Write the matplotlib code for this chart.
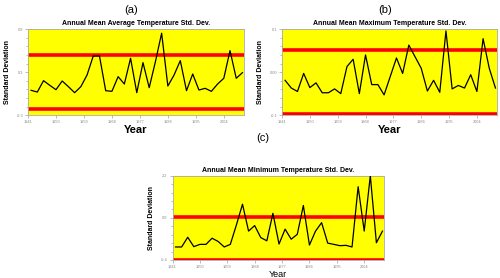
import matplotlib
matplotlib.use("Agg")
import matplotlib.pyplot as plt
from matplotlib.ticker import MultipleLocator, AutoMinorLocator

plt.rcParams['font.family'] = ['Liberation Sans', 'DejaVu Sans']

# years every second year
years = list(range(1942, 2011, 2))
xticks = [1941, 1950, 1959, 1968, 1977, 1986, 1995, 2004]

# (a) average temperature
avg_sd = [0.046, 0.022, 0.181, 0.116, 0.055, 0.176, 0.097, 0.013, 0.097, 0.26,
          0.526, 0.526, 0.041, 0.032, 0.237, 0.134, 0.494, 0.013, 0.433, 0.083,
          0.447, 0.844, 0.106, 0.26, 0.461, 0.041, 0.274, 0.05, 0.074, 0.032,
          0.134, 0.214, 0.601, 0.214, 0.293]
avg_limits = [0.54, -0.22]

# (b) maximum temperature
max_sd = [-0.019, -0.037, -0.045, -0.003, -0.036, -0.025, -0.048, -0.048, -0.039, -0.05,
          0.013, 0.030, -0.05, 0.040, -0.029, -0.029, -0.053, -0.010, 0.033, -0.003,
          0.063, 0.036, 0.009, -0.044, -0.019, -0.047, 0.096, -0.039, -0.031, -0.037,
          -0.006, -0.045, 0.078, 0.009, -0.037]
max_limits = [0.052, -0.098]

# (c) minimum temperature
min_sd = [0.0, 0.0, 0.30, 0.01, 0.08, 0.08, 0.27, 0.17, 0.0, 0.08,
          0.68, 1.32, 0.49, 0.66, 0.29, 0.19, 1.04, 0.09, 0.55, 0.24,
          0.39, 1.28, 0.06, 0.49, 0.75, 0.12, 0.08, 0.04, 0.05, 0.0,
          1.86, 0.49, 2.2, 0.13, 0.49]
min_limits = [0.94, -0.39]

fig = plt.figure(figsize=(5, 2.78), dpi=100)


def panel(rect, title, ys, limits, ylim, yticks, ylabels, bold):
    ax = fig.add_axes(rect)
    ax.set_facecolor('#ffff00')
    for lim in limits:
        ax.axhline(lim, color='#ff0000', lw=2.6, zorder=2)
    ax.plot(years, ys, color='black', lw=0.9, zorder=3)
    ax.set_xlim(1941, 2010.5)
    ax.set_ylim(*ylim)
    ax.set_xticks(xticks)
    ax.set_xticklabels([str(t) for t in xticks])
    ax.set_yticks(yticks)
    ax.set_yticklabels(ylabels)
    ax.yaxis.set_minor_locator(AutoMinorLocator(5))
    ax.tick_params(labelsize=2.8, colors='#888888', length=2, width=0.4, pad=1.5)
    ax.tick_params(which='minor', length=1.2, width=0.4, colors='#888888')
    for s in ax.spines.values():
        s.set_color('#aaaaaa')
        s.set_linewidth(0.6)
    ax.set_title(title, fontsize=5, fontweight='bold', pad=3)
    w = 'bold' if bold else 'normal'
    ax.set_xlabel('Year', fontsize=8 if bold else 6.5, fontweight=w, labelpad=1)
    ax.set_ylabel('Standard Deviation', fontsize=5, fontweight='bold', labelpad=4)
    return ax


panel([0.056, 0.586, 0.432, 0.309], 'Annual Mean Average Temperature Std. Dev.',
      avg_sd, avg_limits, (-0.3, 0.9), [-0.3, 0.3, 0.9], ['-0.3', '0.3', '0.9'], True)
panel([0.564, 0.586, 0.430, 0.309], 'Annual Mean Maximum Temperature Std. Dev.',
      max_sd, max_limits, (-0.1, 0.1), [-0.1, 0.0, 0.1], ['-0.1', '0.00', '0.1'], True)
panel([0.345, 0.065, 0.423, 0.303], 'Annual Mean Minimum Temperature Std. Dev.',
      min_sd, min_limits, (-0.4, 2.2), [-0.4, 0.9, 2.2], ['-0.4', '0.9', '2.2'], False)

fig.text(0.262, 0.963, '(a)', fontsize=8, ha='center', va='center')
fig.text(0.77, 0.963, '(b)', fontsize=8, ha='center', va='center')
fig.text(0.526, 0.503, '(c)', fontsize=8, ha='center', va='center')

fig.savefig('out.png', dpi=100)
